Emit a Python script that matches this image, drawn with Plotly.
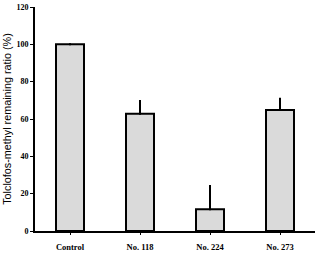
import plotly.graph_objects as go

categories = ["Control", "No. 118", "No. 224", "No. 273"]
values = [100, 62.8, 11.6, 64.8]
errors = [0, 6.8, 12.5, 6.0]
y_ticks = [0, 20, 40, 60, 80, 100, 120]

fig = go.Figure()
fig.add_trace(go.Bar(
    x=categories, y=values, width=0.4,
    marker=dict(color="#dadada", line=dict(color="black", width=2)),
    error_y=dict(type="data", array=errors, arrayminus=[0]*len(errors), symmetric=False,
                 color="black", thickness=2, width=1, visible=True),
))

fig.update_layout(
    width=320, height=253,
    margin=dict(l=35, r=5, t=7, b=22),
    plot_bgcolor="white", paper_bgcolor="white",
    showlegend=False,
    xaxis=dict(
        range=[-0.5, 3.5], showline=True, linecolor="black", linewidth=2,
        ticks="outside", ticklen=2, tickwidth=1, tickcolor="black",
        tickfont=dict(family="Liberation Serif", size=8.5, color="black", weight="bold"),
        ticklabelstandoff=5, showgrid=False, zeroline=False, automargin=False,
    ),
    yaxis=dict(
        range=[0, 120], tickvals=y_ticks, showline=True, linecolor="black", linewidth=2,
        ticks="outside", ticklen=3, tickwidth=1, tickcolor="black",
        tickfont=dict(family="Liberation Serif", size=8, color="black", weight="bold"),
        showgrid=False, zeroline=False, automargin=False,
        title=dict(text="Tolclofos-methyl remaining ratio (%)",
                   font=dict(family="Liberation Sans", size=10.8, color="black"), standoff=3),
    ),
)

fig.write_html("out.html")
